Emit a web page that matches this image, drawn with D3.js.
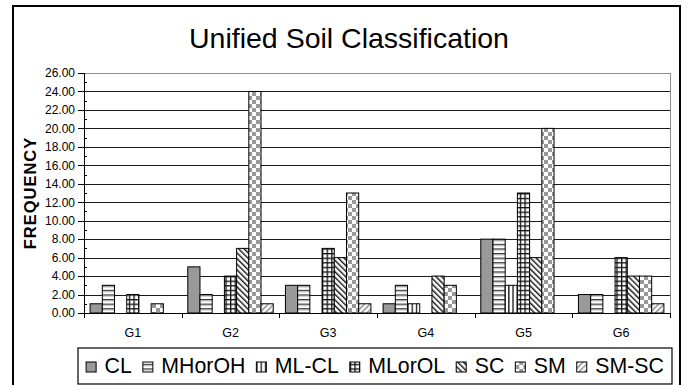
<!DOCTYPE html>
<html>
<head>
<meta charset="utf-8">
<script src="https://cdn.jsdelivr.net/npm/d3@7"></script>
<style>
  html, body { margin: 0; padding: 0; background: #fff; }
  svg { display: block; font-family: "Liberation Sans", Arial, sans-serif; }
  .axis path, .axis line { stroke: #000; shape-rendering: crispEdges; }
  .axis text { fill: #000; }
</style>
</head>
<body>
<div id="chart"></div>
<script>
const groups = ["G1", "G2", "G3", "G4", "G5", "G6"];
const series = ["CL", "MHorOH", "ML-CL", "MLorOL", "SC", "SM", "SM-SC"];
const CL     = [1, 5, 3, 1, 8, 2];
const MHorOH = [3, 2, 3, 3, 8, 2];
const MLCL   = [0, 0, 0, 1, 3, 0];
const MLorOL = [2, 4, 7, 0, 13, 6];
const SC     = [0, 7, 6, 4, 6, 4];
const SM     = [1, 24, 13, 3, 20, 4];
const SMSC   = [0, 1, 1, 0, 0, 1];
const yTicks = [0, 2, 4, 6, 8, 10, 12, 14, 16, 18, 20, 22, 24, 26];

const values = [CL, MHorOH, MLCL, MLorOL, SC, SM, SMSC];

const W = 688, H = 385;
const plot = { left: 84, right: 670, top: 73, bottom: 313 };

const svg = d3.select("#chart").append("svg").attr("width", W).attr("height", H);
const defs = svg.append("defs");

function pattern(id, w, h, draw) {
  const p = defs.append("pattern")
    .attr("id", id)
    .attr("patternUnits", "userSpaceOnUse")
    .attr("width", w)
    .attr("height", h);
  p.append("rect").attr("width", w).attr("height", h).attr("fill", "#fff");
  draw(p);
}

// fills, one per series
pattern("p-cl", 4, 4, p => p.select("rect").attr("fill", "#999"));
pattern("p-mh", 4.6, 4.6, p => {
  p.append("rect").attr("y", 0).attr("width", 4.6).attr("height", 1.2).attr("fill", "#333");
  p.append("rect").attr("y", 1.2).attr("width", 4.6).attr("height", 1).attr("fill", "#aaa");
});
pattern("p-mlcl", 4.2, 4, p => {
  p.append("rect").attr("x", 0).attr("width", 1.3).attr("height", 4).attr("fill", "#111");
});
pattern("p-mlol", 4.6, 4.6, p => {
  p.append("rect").attr("width", 4.6).attr("height", 1.3).attr("fill", "#111");
  p.append("rect").attr("width", 1.3).attr("height", 4.6).attr("fill", "#111");
});
pattern("p-sc", 4, 4, p => {
  p.attr("patternTransform", "rotate(-45)");
  p.append("rect").attr("width", 1.4).attr("height", 4).attr("fill", "#111");
});
pattern("p-sm", 8, 8, p => {
  p.append("rect").attr("width", 4).attr("height", 4).attr("fill", "#999");
  p.append("rect").attr("x", 4).attr("y", 4).attr("width", 4).attr("height", 4).attr("fill", "#999");
});
pattern("p-smsc", 4, 4, p => {
  p.attr("patternTransform", "rotate(45)");
  p.append("rect").attr("width", 1.4).attr("height", 4).attr("fill", "#888");
});
const fills = ["p-cl", "p-mh", "p-mlcl", "p-mlol", "p-sc", "p-sm", "p-smsc"];

// outer chart frame
svg.append("rect")
  .attr("x", 13).attr("y", 6)
  .attr("width", 667).attr("height", 420)
  .attr("fill", "#fff").attr("stroke", "#000").attr("stroke-width", 2);

// title
svg.append("text")
  .attr("x", 349).attr("y", 48)
  .attr("text-anchor", "middle")
  .attr("font-size", 28.5)
  .text("Unified Soil Classification");

const x0 = d3.scaleBand().domain(groups).range([plot.left, plot.right]).padding(0);
const x1 = d3.scaleBand().domain(series).range([0, x0.bandwidth()]).paddingInner(0).paddingOuter(0.5);
const xEdge = d3.scaleLinear().domain([0, groups.length]).range([plot.left, plot.right]);
const y = d3.scaleLinear().domain([0, 26]).range([plot.bottom, plot.top]);

// gridlines
svg.append("g")
  .attr("class", "grid")
  .attr("transform", `translate(${plot.left},0)`)
  .call(d3.axisLeft(y).tickValues(yTicks.slice(1, -1)).tickSize(-(plot.right - plot.left)).tickFormat(""))
  .call(g => g.select(".domain").remove())
  .call(g => g.selectAll("line").attr("stroke", "#1a1a1a").attr("shape-rendering", "crispEdges"));

// plot frame top/right (gray)
svg.append("path")
  .attr("d", `M${plot.left},${y(26)}H${plot.right}V${plot.bottom}`)
  .attr("fill", "none").attr("stroke", "#8c8c8c").attr("shape-rendering", "crispEdges");

// bars
const bars = svg.append("g");
series.forEach((s, si) => {
  bars.selectAll(null)
    .data(groups.map((g, gi) => ({ g, v: values[si][gi] })).filter(d => d.v > 0))
    .join("rect")
    .attr("x", d => x0(d.g) + x1(s))
    .attr("y", d => y(d.v))
    .attr("width", x1.bandwidth())
    .attr("height", d => y(0) - y(d.v))
    .attr("fill", `url(#${fills[si]})`)
    .attr("stroke", "#000")
    .attr("stroke-width", 1);
});

// y axis
svg.append("g")
  .attr("class", "axis")
  .attr("transform", `translate(${plot.left},0)`)
  .call(d3.axisLeft(y).tickValues(yTicks).tickFormat(d3.format(".2f")).tickSize(6).tickPadding(3))
  .call(g => g.selectAll("text").attr("font-size", 12));

// minor ticks
svg.append("g")
  .attr("class", "axis")
  .attr("transform", `translate(${plot.left},0)`)
  .call(d3.axisRight(y).tickValues(d3.range(1, 26, 2)).tickSize(3).tickFormat(""))
  .call(g => g.select(".domain").remove());

// x axis with ticks at category edges
svg.append("g")
  .attr("class", "axis")
  .attr("transform", `translate(0,${plot.bottom})`)
  .call(d3.axisBottom(xEdge).tickValues(d3.range(0, groups.length + 1)).tickSize(5).tickFormat(""));

svg.append("g")
  .attr("class", "axis")
  .attr("transform", `translate(0,${plot.bottom})`)
  .call(d3.axisBottom(x0).tickSize(0).tickPadding(15))
  .call(g => g.select(".domain").remove())
  .call(g => g.selectAll("text").attr("font-size", 12.5));

// y title
svg.append("text")
  .attr("transform", "translate(36,193) rotate(-90)")
  .attr("text-anchor", "middle")
  .attr("font-size", 16.5)
  .attr("font-weight", "bold")
  .attr("letter-spacing", 1)
  .text("FREQUENCY");

// legend
const box = { x: 78, y: 348, w: 594, h: 36 };
svg.append("rect")
  .attr("x", box.x).attr("y", box.y).attr("width", box.w).attr("height", box.h)
  .attr("fill", "#fff").attr("stroke", "#000").attr("stroke-width", 1.2);

const legend = svg.append("g");
const items = legend.selectAll("g").data(series).join("g");
items.append("rect")
  .attr("width", 10).attr("height", 10)
  .attr("y", -11)
  .attr("fill", (d, i) => `url(#${fills[i]})`)
  .attr("stroke", "#000");
items.append("text")
  .attr("x", 18.5)
  .attr("font-size", 21.3)
  .text(d => d);

let cx = 0;
items.each(function () {
  const w = d3.select(this).select("text").node().getComputedTextLength();
  d3.select(this).attr("data-x", cx);
  cx += 18.5 + w + 11;
});
cx -= 11;
const startX = box.x + (box.w - cx) / 2;
items.attr("transform", function () { return `translate(${startX + (+this.getAttribute("data-x"))},373)`; });
</script>
</body>
</html>
